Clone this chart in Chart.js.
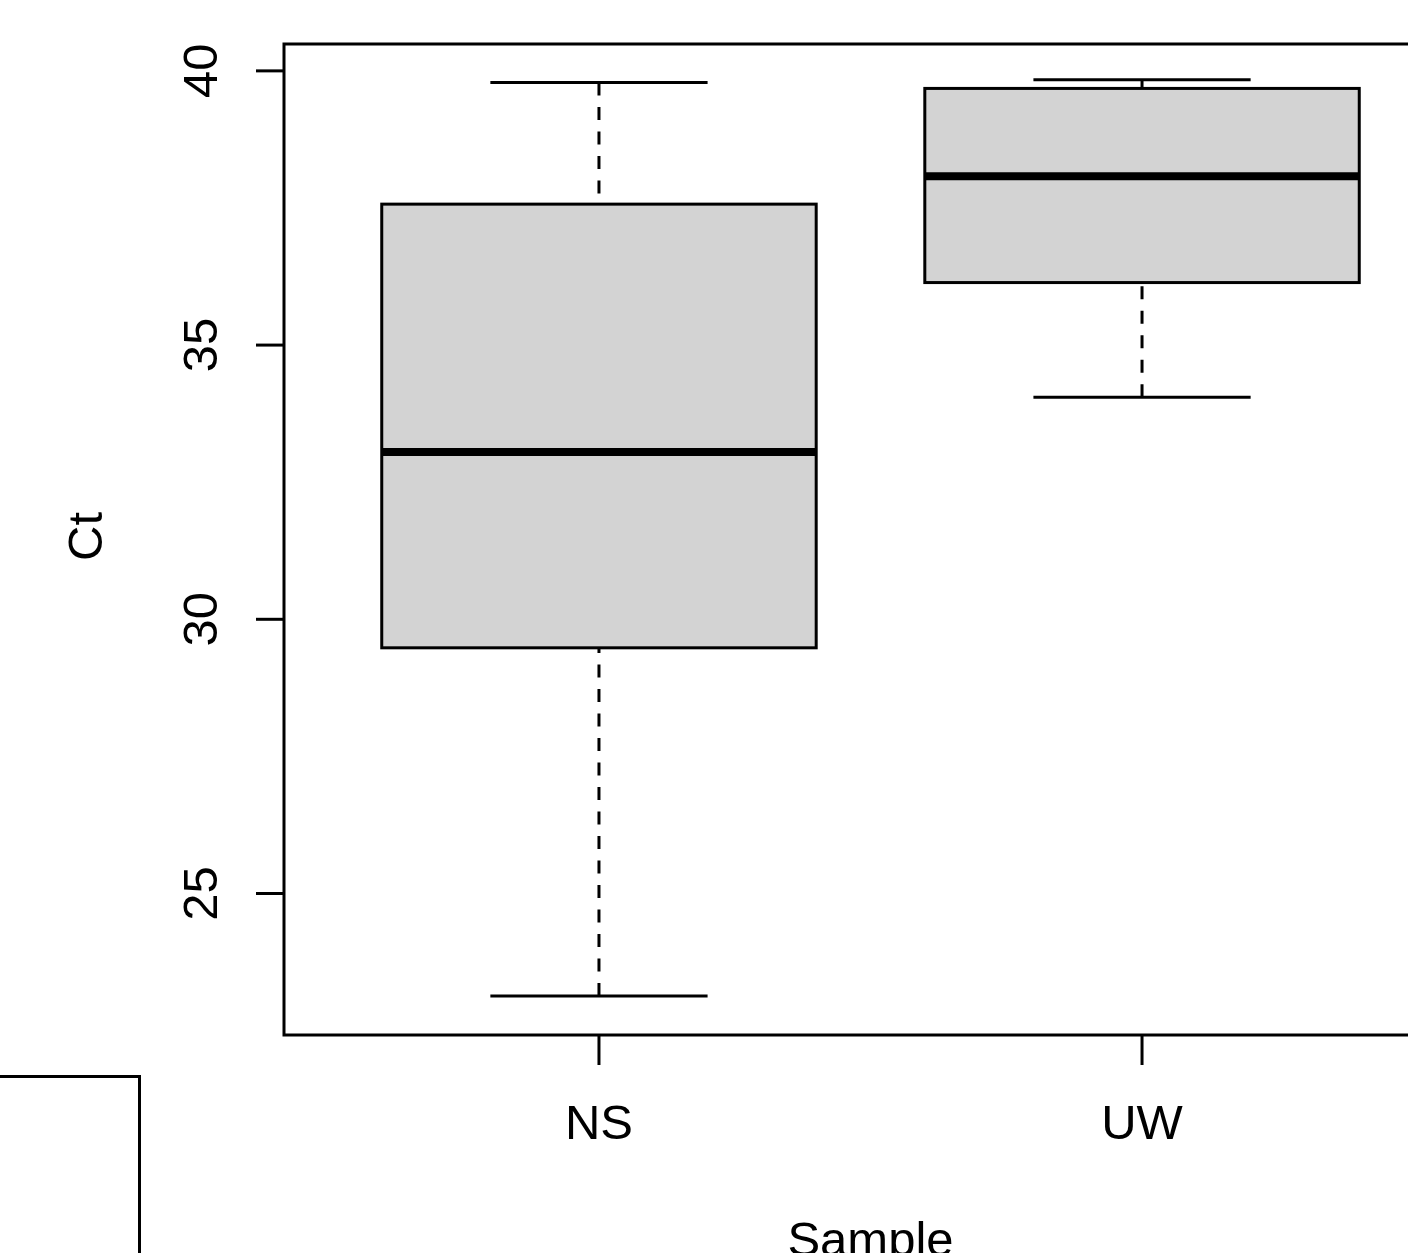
<!DOCTYPE html>
<html>
<head>
<meta charset="utf-8">
<title>Ct by Sample</title>
<script src="https://cdn.jsdelivr.net/npm/chart.js@4.4.0/dist/chart.umd.min.js"></script>
<style>
    html, body { margin: 0; padding: 0; background: #fff; overflow: hidden; }
    #wrap { position: absolute; left: 0; top: 0; width: 1500px; height: 1253px; }
    /* edge of a neighbouring panel that shows in the bottom-left corner */
    #stray { position: absolute; left: -10px; top: 1075px; width: 148px; height: 200px;
             border-top: 3px solid #000; border-right: 3px solid #000; }
</style>
</head>
<body>
<div id="wrap"><canvas id="boxChart" width="1500" height="1253"></canvas></div>
<div id="stray"></div>
<script>
// -- DATA
const samples = ["NS", "UW"];
const whiskerLow = [23.13, 34.05];
const q1 = [29.48, 36.14];
const median = [33.05, 38.08];
const q3 = [37.57, 39.68];
const whiskerHigh = [39.79, 39.84];
const yTicks = [25, 30, 35, 40];
const yRange = [22.42, 40.49];
const xRange = [0.42, 2.58];

const FONT = "49px 'Liberation Sans', Arial, sans-serif";

// -- BOXPLOT DRAWING (whiskers, staples, outlines, medians, axes)

const boxplotPlugin = {
    id: "boxplot",
    afterDatasetsDraw(chart) {
        const ctx = chart.ctx;
        const xs = chart.scales.x;
        const ys = chart.scales.y;
        const area = chart.chartArea;
        const bars = chart.getDatasetMeta(0).data;

        function line(x1, y1, x2, y2) {
            ctx.beginPath();
            ctx.moveTo(x1, y1);
            ctx.lineTo(x2, y2);
            ctx.stroke();
        }

        ctx.save();
        ctx.strokeStyle = "#000";
        ctx.fillStyle = "#000";
        ctx.lineCap = "butt";

        samples.forEach((name, i) => {
            const cx = xs.getPixelForValue(i + 1);
            const half = bars[i].width / 2;
            const top = ys.getPixelForValue(q3[i]);
            const bot = ys.getPixelForValue(q1[i]);
            const lo = ys.getPixelForValue(whiskerLow[i]);
            const hi = ys.getPixelForValue(whiskerHigh[i]);

            ctx.lineWidth = 3;
            ctx.setLineDash([13, 11.5]);
            line(cx, lo, cx, bot);
            line(cx, hi, cx, top);
            ctx.setLineDash([]);

            line(cx - half / 2, lo, cx + half / 2, lo);
            line(cx - half / 2, hi, cx + half / 2, hi);

            ctx.strokeRect(cx - half, top, half * 2, bot - top);

            ctx.lineWidth = 8;
            const my = ys.getPixelForValue(median[i]);
            line(cx - half, my, cx + half, my);
        });

        // frame
        ctx.lineWidth = 3;
        ctx.strokeRect(area.left, area.top, area.right - area.left, area.bottom - area.top);

        ctx.font = FONT;

        // y axis
        ys.ticks.forEach(t => {
            const py = ys.getPixelForValue(t.value);
            line(area.left - 28, py, area.left, py);
            ctx.save();
            ctx.translate(area.left - 67, py);
            ctx.rotate(-Math.PI / 2);
            ctx.textAlign = "center";
            ctx.textBaseline = "alphabetic";
            ctx.fillText(String(t.value), 0, 0);
            ctx.restore();
        });

        // x axis
        xs.ticks.forEach((t, i) => {
            const px = xs.getPixelForValue(t.value);
            line(px, area.bottom, px, area.bottom + 30);
            ctx.textAlign = "center";
            ctx.textBaseline = "alphabetic";
            ctx.fillText(samples[i], px, area.bottom + 104);
        });

        // axis titles
        ctx.textAlign = "center";
        ctx.fillText("Sample", (area.left + area.right) / 2, area.bottom + 221);
        ctx.save();
        ctx.translate(102, (area.top + area.bottom) / 2 - 3);
        ctx.rotate(-Math.PI / 2);
        ctx.fillText("Ct", 0, 0);
        ctx.restore();

        ctx.restore();
    }
};

// -- CHART

const ctx = document.getElementById("boxChart").getContext("2d");
const chart = new Chart(ctx, {
    type: "bar",
    data: {
        datasets: [{
            label: "Ct",
            data: samples.map((s, i) => ({ x: i + 1, y: [q1[i], q3[i]] })),
            backgroundColor: "#d3d3d3",
            borderWidth: 0,
            categoryPercentage: 0.8,
            barPercentage: 1
        }]
    },
    options: {
        responsive: false,
        devicePixelRatio: 1,
        animation: false,
        layout: {
            padding: { left: 284, top: 44, right: 43, bottom: 218 }
        },
        plugins: {
            legend: { display: false },
            tooltip: { enabled: false }
        },
        scales: {
            x: {
                type: "linear",
                display: false,
                offset: false,
                min: xRange[0],
                max: xRange[1],
                afterBuildTicks: scale => {
                    scale.ticks = samples.map((s, i) => ({ value: i + 1 }));
                }
            },
            y: {
                type: "linear",
                display: false,
                min: yRange[0],
                max: yRange[1],
                afterBuildTicks: scale => {
                    scale.ticks = yTicks.map(v => ({ value: v }));
                }
            }
        }
    },
    plugins: [boxplotPlugin]
});
</script>
</body>
</html>
